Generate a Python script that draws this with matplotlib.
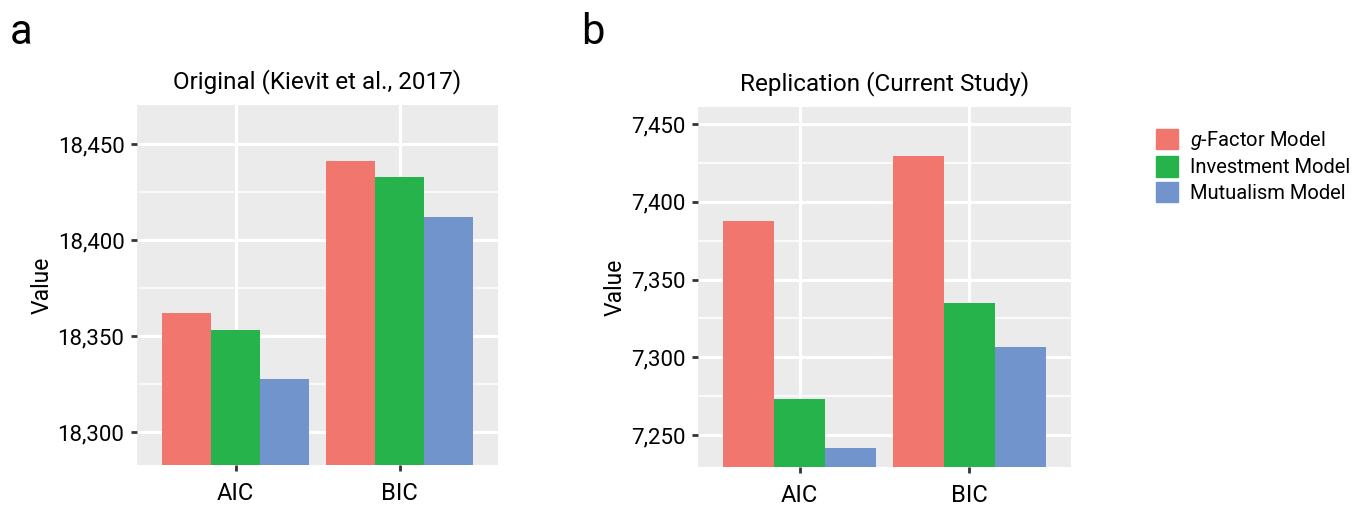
import numpy as np
import matplotlib
matplotlib.use("Agg")
from matplotlib import pyplot as plt
from matplotlib.patches import Patch
from matplotlib.ticker import FuncFormatter, MultipleLocator

plt.rcParams['font.family'] = ['Roboto', 'DejaVu Sans']
plt.rcParams['mathtext.fontset'] = 'custom'
plt.rcParams['mathtext.it'] = 'Roboto:italic'
plt.rcParams['mathtext.rm'] = 'Roboto'

#% data
criteria = ['AIC', 'BIC']
models = ['$g$-Factor Model', 'Investment Model', 'Mutualism Model']
colors = ['#F1766E', '#27B34B', '#7194CC']

orig_vals = [[18362, 18441],   # g-factor
             [18353, 18433],   # investment
             [18327.6, 18412]] # mutualism
repl_vals = [[7387.8, 7429.4],
             [7273.1, 7334.7],
             [7241.6, 7306.4]]

orig_ticks = [18300, 18350, 18400, 18450]
repl_ticks = [7250, 7300, 7350, 7400, 7450]

def ggpanel(ax, vals, ylim, ticks, title):
    ax.set_facecolor('#EBEBEB')
    x = np.arange(1, len(criteria)+1)
    w = 0.9/len(models)
    for i, (v, c) in enumerate(zip(vals, colors)):
        ax.bar(x + (i-1)*w, np.array(v)-ylim[0], width=w, bottom=ylim[0],
               color=c, zorder=3)
    ax.set_xlim(0.4, 2.6)
    ax.set_ylim(*ylim)
    ax.set_yticks(ticks)
    ax.yaxis.set_minor_locator(MultipleLocator(25))
    ax.set_xticks(x)
    ax.set_xticklabels(criteria)
    ax.yaxis.set_major_formatter(FuncFormatter(lambda v, p: f'{int(v):,}'))
    ax.grid(which='major', color='white', lw=2.2, zorder=0)
    ax.grid(which='minor', axis='y', color='white', lw=1.1, zorder=0)
    for s in ax.spines.values():
        s.set_visible(False)
    ax.tick_params(which='major', length=4, width=2, color='#333333',
                   labelsize=16, labelcolor='black', pad=5)
    ax.tick_params(axis='x', which='major', pad=8, labelsize=17)
    ax.tick_params(which='minor', length=0)
    ax.set_ylabel('Value', fontsize=16.5, labelpad=3)
    ax.set_title(title, fontsize=17.5, pad=12)
    ax.set_axisbelow(True)

fig = plt.figure(figsize=(13.57, 5.07), dpi=100)
ax1 = fig.add_axes([0.101, 0.0828, 0.266, 0.710])
ax2 = fig.add_axes([0.5144, 0.0789, 0.2748, 0.710])

ggpanel(ax1, orig_vals, (18282.8, 18470.3), orig_ticks, 'Original (Kievit et al., 2017)')
ggpanel(ax2, repl_vals, (7229.4, 7461), repl_ticks, 'Replication (Current Study)')

fig.text(0.007, 0.935, 'a', fontsize=30, va='center')
fig.text(0.428, 0.935, 'b', fontsize=30, va='center')

handles = [Patch(color=c, label=m) for c, m in zip(colors, models)]
fig.legend(handles=handles, loc='upper left', bbox_to_anchor=(0.846, 0.762),
           frameon=False, fontsize=14.5, handlelength=1.1, handleheight=1.2,
           handletextpad=0.6, labelspacing=0.22, borderaxespad=0)

fig.savefig('out.png', dpi=100)
